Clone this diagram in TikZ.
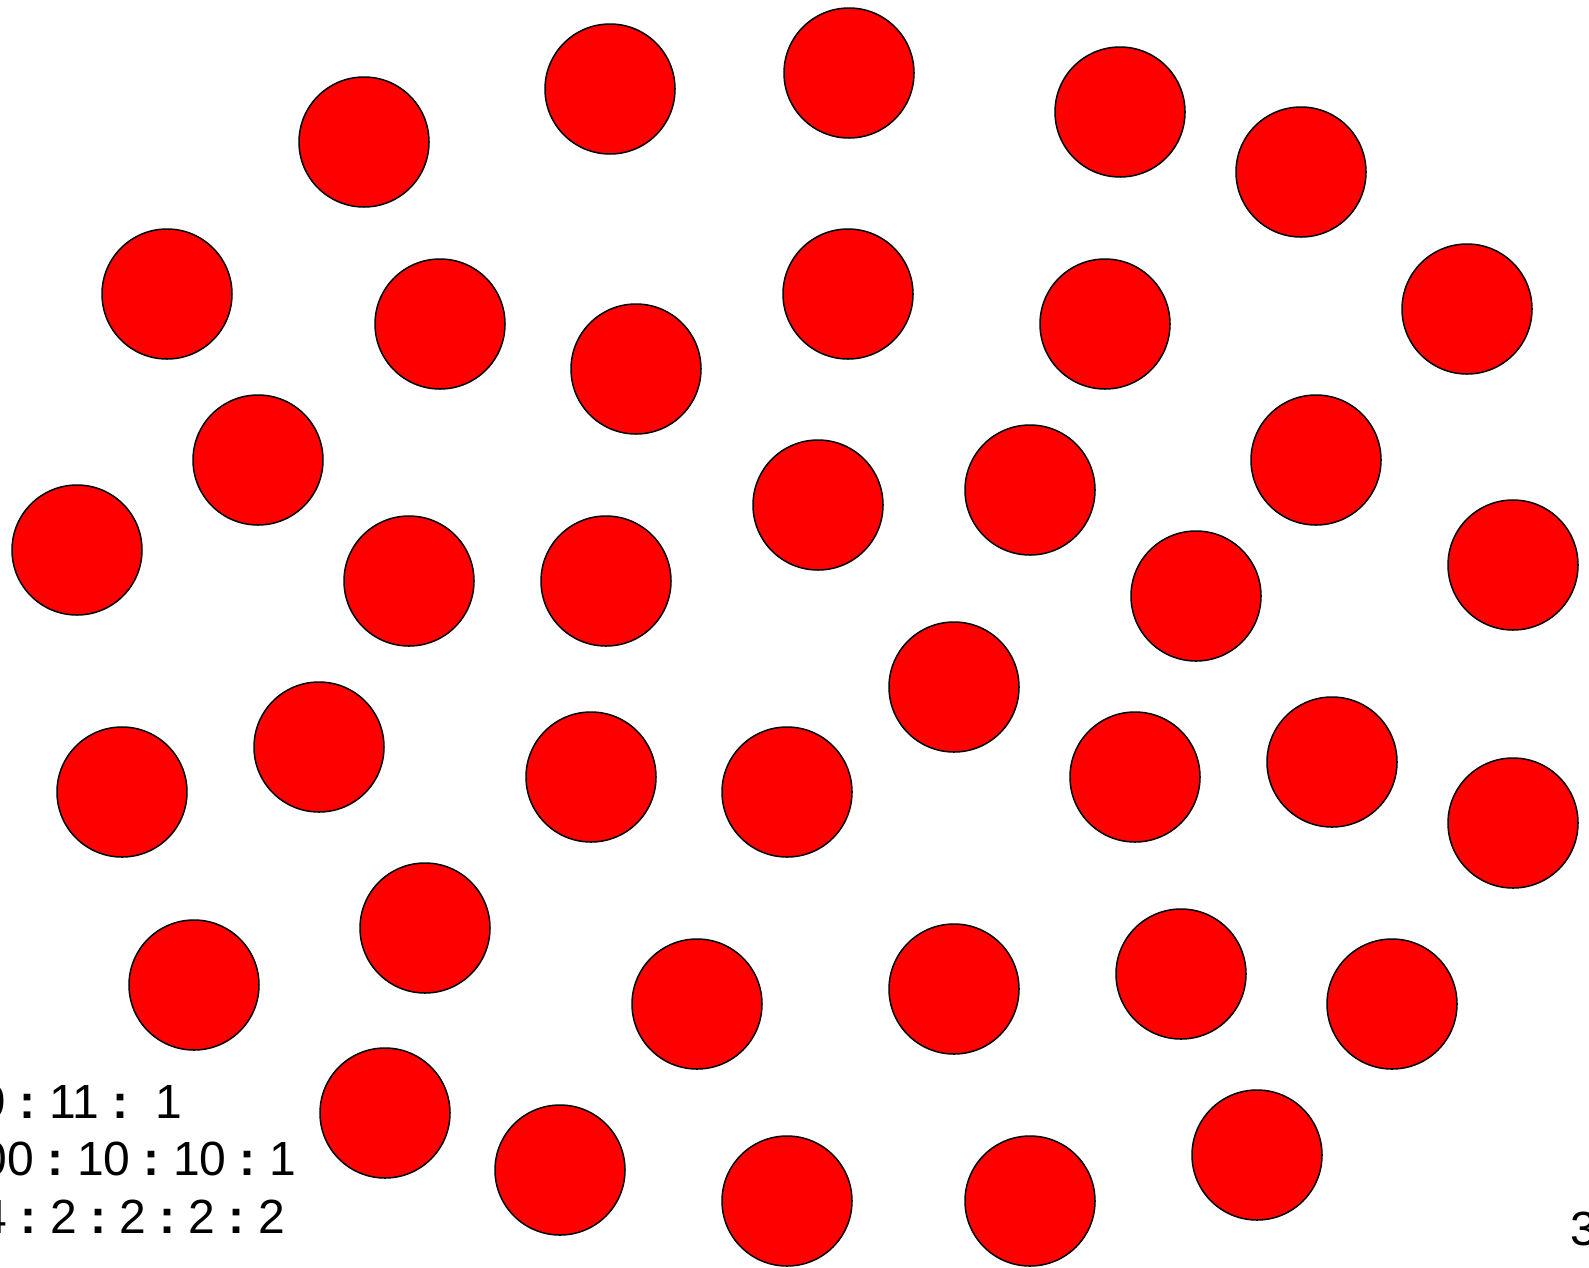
\documentclass[tikz,border=0pt]{standalone}
\usepackage{fontspec}
\setmainfont{Liberation Sans}
\usepackage{tikz}
\frenchspacing

\begin{document}
\begin{tikzpicture}[x=1pt,y=-1pt,
    ball/.style={circle,draw=black,fill=red,line width=1.5pt,minimum size=130pt,inner sep=0pt},
    ratio/.style={anchor=base east,inner sep=0pt,font=\fontsize{48}{57}\selectfont}]
    \useasboundingbox (0,0) rectangle (1589,1267);
    \clip (0,0) rectangle (1589,1267);
    \node[ball] (b1) at (364,142) {};
    \node[ball] (b2) at (610,89) {};
    \node[ball] (b3) at (849,73) {};
    \node[ball] (b4) at (1120,112) {};
    \node[ball] (b5) at (1301,172) {};
    \node[ball] (b6) at (167,294) {};
    \node[ball] (b7) at (440,324) {};
    \node[ball] (b8) at (636,369) {};
    \node[ball] (b9) at (848,294) {};
    \node[ball] (b10) at (1105,324) {};
    \node[ball] (b11) at (1467,309) {};
    \node[ball] (b12) at (258,460) {};
    \node[ball] (b13) at (77,550) {};
    \node[ball] (b14) at (409,581) {};
    \node[ball] (b15) at (606,581) {};
    \node[ball] (b16) at (818,505) {};
    \node[ball] (b17) at (1030,490) {};
    \node[ball] (b18) at (1316,460) {};
    \node[ball] (b19) at (1196,596) {};
    \node[ball] (b20) at (1513,565) {};
    \node[ball] (b21) at (954,687) {};
    \node[ball] (b22) at (122,792) {};
    \node[ball] (b23) at (319,747) {};
    \node[ball] (b24) at (591,777) {};
    \node[ball] (b25) at (787,792) {};
    \node[ball] (b26) at (1135,777) {};
    \node[ball] (b27) at (1332,762) {};
    \node[ball] (b28) at (1513,823) {};
    \node[ball] (b29) at (425,928) {};
    \node[ball] (b30) at (194,985) {};
    \node[ball] (b31) at (697,1004) {};
    \node[ball] (b32) at (954,989) {};
    \node[ball] (b33) at (1181,974) {};
    \node[ball] (b34) at (1392,1004) {};
    \node[ball] (b35) at (385,1113) {};
    \node[ball] (b36) at (560,1170) {};
    \node[ball] (b37) at (787,1201) {};
    \node[ball] (b38) at (1030,1201) {};
    \node[ball] (b39) at (1257,1155) {};
    \node[ratio] (r1) at (182,1118) {9 \textbf{:} 11 \textbf{:}\ \ 1};
    \node[ratio] (r2) at (296,1175) {00 \textbf{:} 10 \textbf{:} 10 \textbf{:} 1};
    \node[ratio] (r3) at (285,1233) {4 \textbf{:} 2 \textbf{:} 2 \textbf{:} 2 \textbf{:} 2};
    \node[ratio,anchor=base west] (pg) at (1570,1245) {3};
\end{tikzpicture}
\end{document}
